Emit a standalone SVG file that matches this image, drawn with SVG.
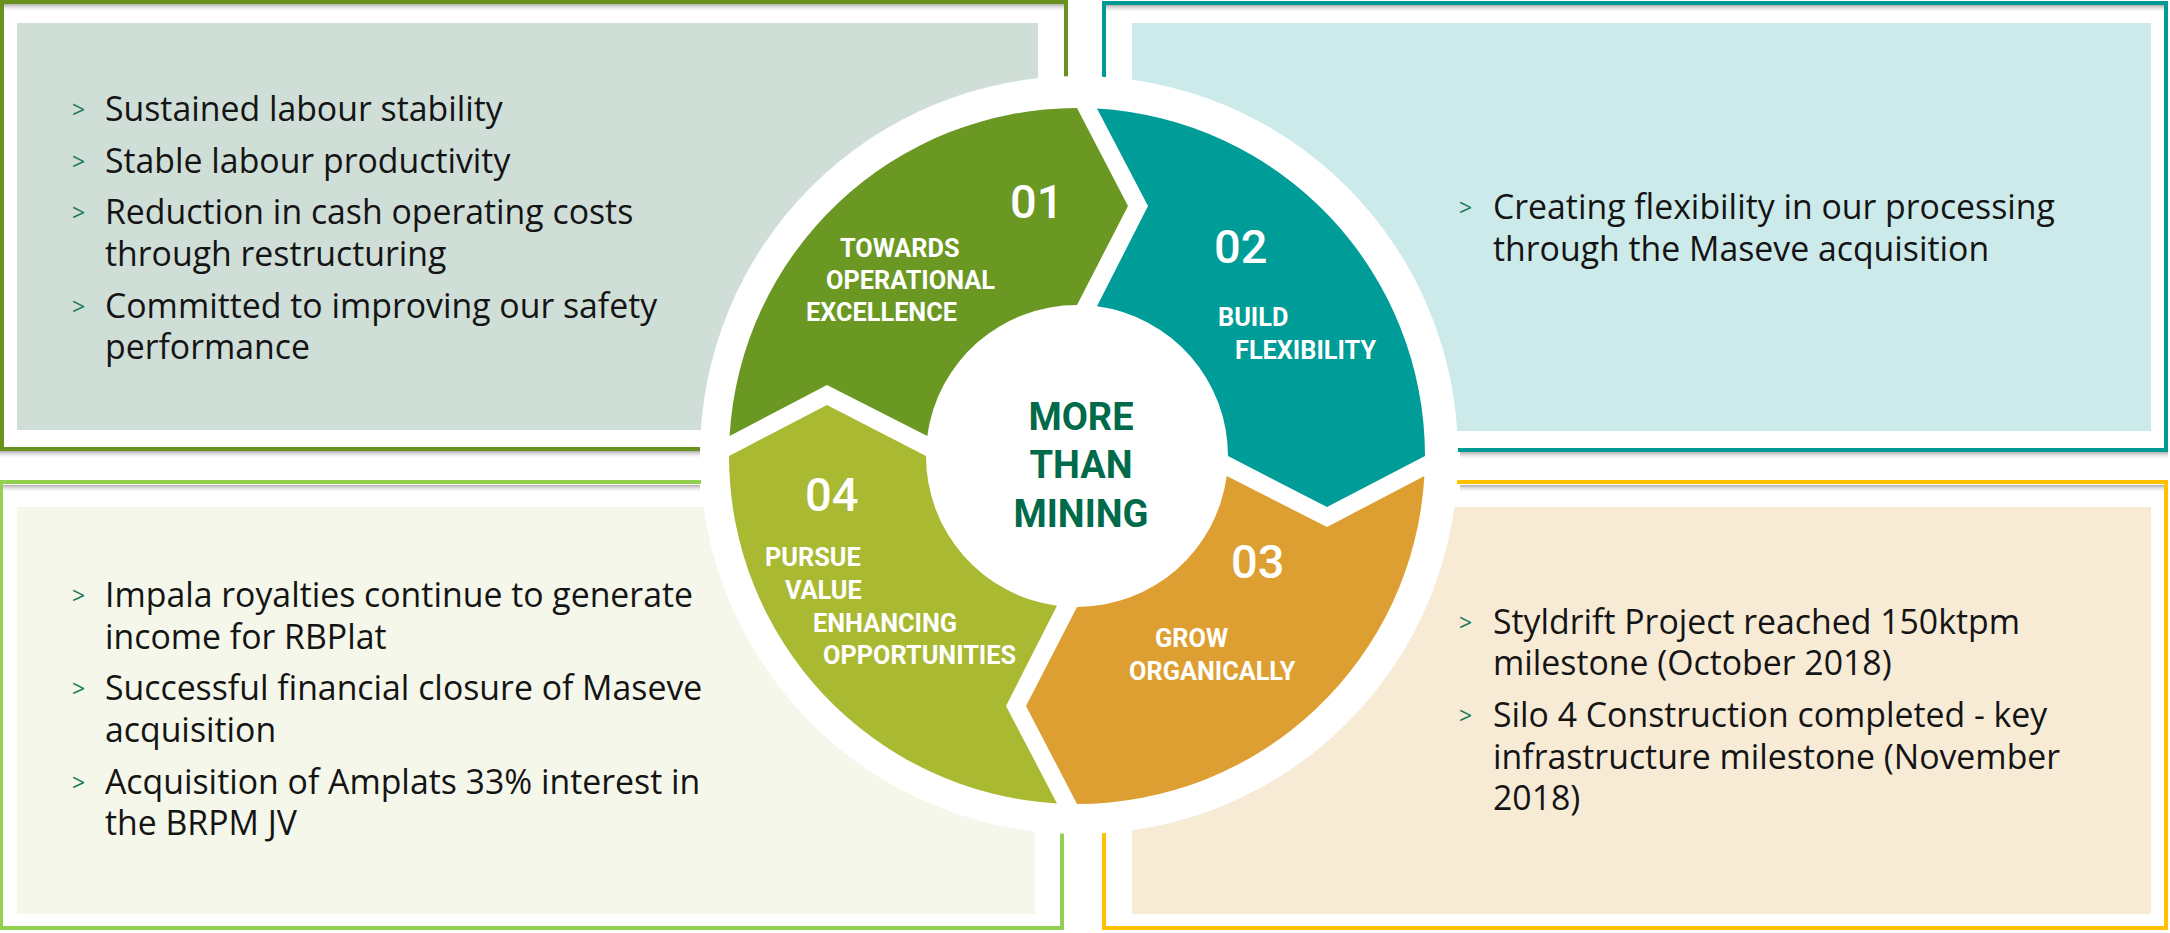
<svg xmlns="http://www.w3.org/2000/svg" width="2170" height="933" viewBox="0 0 2170 933">
<defs>
<linearGradient id="shD" x1="0" y1="0" x2="0" y2="1"><stop offset="0" stop-color="#8a8a8a" stop-opacity="0.7"/><stop offset="1" stop-color="#ffffff" stop-opacity="0"/></linearGradient>
<style>
.body{font-family:"Open Sans","Noto Sans","DejaVu Sans",sans-serif;font-size:33.8px;fill:#141414}
.bul{font-family:"Open Sans","DejaVu Sans",sans-serif;font-size:23px;fill:#1b7a5a}
.lab{font-family:Roboto,"Open Sans",sans-serif;font-weight:700;font-size:25.3px;fill:#ffffff}
.num{font-family:Roboto,"Open Sans",sans-serif;font-weight:500;font-size:47px;fill:#ffffff}
.ctr{font-family:Roboto,"Open Sans",sans-serif;font-weight:700;font-size:38px;fill:#006a4a;text-anchor:middle}
.frame{fill:none;stroke-width:4}
</style>
</defs>
<rect width="2170" height="933" fill="#ffffff"/>

<g id="panel-tl">
<rect x="17" y="23" width="1021" height="407" fill="#cfded7"/>
<rect x="4" y="4" width="1060" height="8" fill="url(#shD)"/>
<rect x="0" y="451" width="700" height="8" fill="url(#shD)"/>
<rect x="2" y="2" width="1064" height="447" class="frame" stroke="#6a9020"/>
</g>
<g id="panel-tr">
<rect x="1132" y="23" width="1019" height="408" fill="#cdeaea"/>
<rect x="1106" y="5" width="1058" height="8" fill="url(#shD)"/>
<rect x="1460" y="452" width="708" height="8" fill="url(#shD)"/>
<rect x="1104" y="3" width="1062" height="447" class="frame" stroke="#009a94"/>
</g>
<g id="panel-bl">
<rect x="17" y="507" width="1018" height="407" fill="#f4f7ea"/>
<rect x="0" y="485" width="700" height="8" fill="url(#shD)"/>
<rect x="1" y="482" width="1061" height="446" class="frame" stroke="#92d050"/>
</g>
<g id="panel-br">
<rect x="1132" y="507" width="1019" height="407" fill="#f7ebd6"/>
<rect x="1460" y="485" width="708" height="8" fill="url(#shD)"/>
<rect x="1104" y="482" width="1062" height="446" class="frame" stroke="#ffc000"/>
</g>

<g id="cycle">
<circle cx="1079" cy="455" r="379" fill="#ffffff"/>
<g id="seg-01">
<path d="M729.6,436 A348,348 0 0 1 1077,108 L1128,206 L1077,305 A151,151 0 0 0 927.3,436 L827,385 Z" fill="#6a9822"/>
<text class="num" x="1010" y="218">01</text>
<text class="lab" x="840" y="257">TOWARDS</text>
<text class="lab" x="826" y="289">OPERATIONAL</text>
<text class="lab" x="806" y="321">EXCELLENCE</text>
</g>
<g id="seg-02">
<path d="M1097,108.6 A348,348 0 0 1 1425,456 L1327,507 L1228,456 A151,151 0 0 0 1097,306.3 L1148,206 Z" fill="#009c97"/>
<text class="num" x="1214" y="263">02</text>
<text class="lab" x="1218" y="326">BUILD</text>
<text class="lab" x="1235" y="359">FLEXIBILITY</text>
</g>
<g id="seg-03">
<path d="M1424.4,476 A348,348 0 0 1 1077,804 L1026,706 L1077,607 A151,151 0 0 0 1226.7,476 L1327,527 Z" fill="#dd9f31"/>
<text class="num" x="1231" y="578">03</text>
<text class="lab" x="1155" y="647">GROW</text>
<text class="lab" x="1129" y="680">ORGANICALLY</text>
</g>
<g id="seg-04">
<path d="M1057,803.4 A348,348 0 0 1 729,456 L827,405 L926,456 A151,151 0 0 0 1057,605.7 L1006,706 Z" fill="#a9b932"/>
<text class="num" x="805" y="511">04</text>
<text class="lab" x="765" y="566">PURSUE</text>
<text class="lab" x="785" y="599">VALUE</text>
<text class="lab" x="813" y="632">ENHANCING</text>
<text class="lab" x="823" y="664">OPPORTUNITIES</text>
</g>
<g id="center">
<text class="ctr" x="1081" y="430">MORE</text>
<text class="ctr" x="1081" y="478">THAN</text>
<text class="ctr" x="1081" y="527">MINING</text>
</g>
</g>

<g id="text-tl">
<text class="bul" x="72" y="118">&gt;</text><text class="body" x="105" y="121">Sustained labour stability</text>
<text class="bul" x="72" y="170">&gt;</text><text class="body" x="105" y="173">Stable labour productivity</text>
<text class="bul" x="72" y="221">&gt;</text><text class="body" x="105" y="224">Reduction in cash operating costs</text>
<text class="body" x="105" y="266">through restructuring</text>
<text class="bul" x="72" y="315">&gt;</text><text class="body" x="105" y="318">Committed to improving our safety</text>
<text class="body" x="105" y="359">performance</text>
</g>
<g id="text-tr">
<text class="bul" x="1459" y="216">&gt;</text><text class="body" x="1493" y="219">Creating flexibility in our processing</text>
<text class="body" x="1493" y="261">through the Maseve acquisition</text>
</g>
<g id="text-bl">
<text class="bul" x="72" y="604">&gt;</text><text class="body" x="105" y="607">Impala royalties continue to generate</text>
<text class="body" x="105" y="649">income for RBPlat</text>
<text class="bul" x="72" y="697">&gt;</text><text class="body" x="105" y="700">Successful financial closure of Maseve</text>
<text class="body" x="105" y="742">acquisition</text>
<text class="bul" x="72" y="791">&gt;</text><text class="body" x="105" y="794">Acquisition of Amplats 33% interest in</text>
<text class="body" x="105" y="835">the BRPM JV</text>
</g>
<g id="text-br">
<text class="bul" x="1459" y="631">&gt;</text><text class="body" x="1493" y="634">Styldrift Project reached 150ktpm</text>
<text class="body" x="1493" y="675">milestone (October 2018)</text>
<text class="bul" x="1459" y="724">&gt;</text><text class="body" x="1493" y="727">Silo 4 Construction completed - key</text>
<text class="body" x="1493" y="769">infrastructure milestone (November</text>
<text class="body" x="1493" y="810">2018)</text>
</g>
</svg>
